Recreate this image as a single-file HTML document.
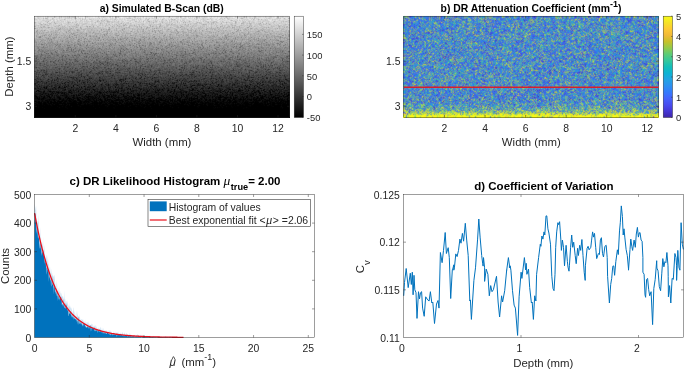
<!DOCTYPE html>
<html><head><meta charset="utf-8"><title>DR attenuation figure</title>
<style>html,body{margin:0;padding:0;background:#fff}svg{display:block}text{font-family:"Liberation Sans",sans-serif;fill:#262626}.tk{font-size:10.4px}.ck{font-size:9.4px}.lb{font-size:11.4px}.tt{font-size:10.4px;font-weight:bold;fill:#000}.t2{font-size:11.5px;font-weight:bold;fill:#000}.ax{fill:none;stroke:#262626;stroke-width:0.45}.t{stroke:#262626;stroke-width:0.45}</style>
</head><body>
<svg width="685" height="370" viewBox="0 0 685 370">
<defs>
<linearGradient id="ga" x1="0" y1="0" x2="0" y2="1"><stop offset="0" stop-color="#ffffff"/><stop offset="1" stop-color="#0c0c0c"/></linearGradient>
<linearGradient id="cba" x1="0" y1="0" x2="0" y2="1"><stop offset="0" stop-color="#fff"/><stop offset="1" stop-color="#000"/></linearGradient>
<linearGradient id="cbb" x1="0" y1="0" x2="0" y2="1"><stop offset="0" stop-color="rgb(249,251,21)"/><stop offset="0.062" stop-color="rgb(245,227,39)"/><stop offset="0.125" stop-color="rgb(254,202,51)"/><stop offset="0.188" stop-color="rgb(241,186,55)"/><stop offset="0.25" stop-color="rgb(200,193,41)"/><stop offset="0.312" stop-color="rgb(148,202,74)"/><stop offset="0.375" stop-color="rgb(92,204,118)"/><stop offset="0.438" stop-color="rgb(52,199,156)"/><stop offset="0.5" stop-color="rgb(18,190,185)"/><stop offset="0.562" stop-color="rgb(12,179,211)"/><stop offset="0.625" stop-color="rgb(33,163,227)"/><stop offset="0.688" stop-color="rgb(44,144,240)"/><stop offset="0.75" stop-color="rgb(52,122,253)"/><stop offset="0.812" stop-color="rgb(69,98,252)"/><stop offset="0.875" stop-color="rgb(72,76,239)"/><stop offset="0.938" stop-color="rgb(69,54,213)"/><stop offset="1" stop-color="rgb(62,38,168)"/></linearGradient>
<linearGradient id="gb" x1="0" y1="0" x2="0" y2="1"><stop offset="0" stop-color="rgb(13,13,13)"/><stop offset="0.233" stop-color="rgb(13,13,13)"/><stop offset="0.467" stop-color="rgb(13,13,13)"/><stop offset="0.7" stop-color="rgb(13,13,13)"/><stop offset="0.72" stop-color="rgb(13,13,13)"/><stop offset="0.725" stop-color="rgb(13,13,13)"/><stop offset="0.73" stop-color="rgb(13,13,13)"/><stop offset="0.735" stop-color="rgb(13,13,13)"/><stop offset="0.74" stop-color="rgb(13,13,13)"/><stop offset="0.745" stop-color="rgb(13,13,13)"/><stop offset="0.75" stop-color="rgb(13,13,13)"/><stop offset="0.755" stop-color="rgb(13,13,13)"/><stop offset="0.76" stop-color="rgb(13,13,13)"/><stop offset="0.765" stop-color="rgb(13,13,13)"/><stop offset="0.77" stop-color="rgb(13,13,13)"/><stop offset="0.775" stop-color="rgb(13,13,13)"/><stop offset="0.78" stop-color="rgb(13,13,13)"/><stop offset="0.785" stop-color="rgb(13,13,13)"/><stop offset="0.79" stop-color="rgb(13,13,13)"/><stop offset="0.795" stop-color="rgb(13,13,13)"/><stop offset="0.8" stop-color="rgb(13,13,13)"/><stop offset="0.805" stop-color="rgb(13,13,13)"/><stop offset="0.81" stop-color="rgb(13,13,13)"/><stop offset="0.815" stop-color="rgb(13,13,13)"/><stop offset="0.82" stop-color="rgb(14,14,14)"/><stop offset="0.825" stop-color="rgb(14,14,14)"/><stop offset="0.83" stop-color="rgb(14,14,14)"/><stop offset="0.835" stop-color="rgb(14,14,14)"/><stop offset="0.84" stop-color="rgb(14,14,14)"/><stop offset="0.845" stop-color="rgb(14,14,14)"/><stop offset="0.85" stop-color="rgb(14,14,14)"/><stop offset="0.855" stop-color="rgb(14,14,14)"/><stop offset="0.86" stop-color="rgb(14,14,14)"/><stop offset="0.865" stop-color="rgb(15,15,15)"/><stop offset="0.87" stop-color="rgb(15,15,15)"/><stop offset="0.875" stop-color="rgb(15,15,15)"/><stop offset="0.88" stop-color="rgb(15,15,15)"/><stop offset="0.885" stop-color="rgb(15,15,15)"/><stop offset="0.89" stop-color="rgb(16,16,16)"/><stop offset="0.895" stop-color="rgb(16,16,16)"/><stop offset="0.9" stop-color="rgb(16,16,16)"/><stop offset="0.905" stop-color="rgb(17,17,17)"/><stop offset="0.91" stop-color="rgb(17,17,17)"/><stop offset="0.915" stop-color="rgb(18,18,18)"/><stop offset="0.92" stop-color="rgb(19,19,19)"/><stop offset="0.925" stop-color="rgb(19,19,19)"/><stop offset="0.93" stop-color="rgb(20,20,20)"/><stop offset="0.935" stop-color="rgb(22,22,22)"/><stop offset="0.94" stop-color="rgb(23,23,23)"/><stop offset="0.945" stop-color="rgb(25,25,25)"/><stop offset="0.95" stop-color="rgb(27,27,27)"/><stop offset="0.955" stop-color="rgb(30,30,30)"/><stop offset="0.96" stop-color="rgb(34,34,34)"/><stop offset="0.965" stop-color="rgb(39,39,39)"/><stop offset="0.97" stop-color="rgb(48,48,48)"/><stop offset="0.975" stop-color="rgb(64,64,64)"/><stop offset="0.98" stop-color="rgb(99,99,99)"/><stop offset="0.985" stop-color="rgb(102,102,102)"/><stop offset="0.99" stop-color="rgb(102,102,102)"/><stop offset="0.995" stop-color="rgb(102,102,102)"/><stop offset="1" stop-color="rgb(102,102,102)"/></linearGradient>
<filter id="fa" x="0" y="0" width="1" height="1" color-interpolation-filters="sRGB"><feTurbulence type="fractalNoise" baseFrequency="0.3 0.37" numOctaves="3" seed="7" result="n"/><feColorMatrix in="n" type="matrix" values="1 0 0 0 0  1 0 0 0 0  1 0 0 0 0  0 0 0 0 1" result="n1"/><feComponentTransfer in="n1" result="l"><feFuncR type="table" tableValues="0.066 0.227 0.303 0.355 0.394 0.425 0.452 0.476 0.497 0.516 0.533 0.55 0.565 0.58 0.594 0.607 0.62 0.633 0.645 0.658 0.67 0.682 0.695 0.707 0.721 0.734 0.749 0.764 0.782 0.802 0.829 0.873 0.066 0.227 0.303 0.355 0.394 0.425 0.452 0.476 0.497 0.516 0.533 0.55 0.565 0.58 0.594 0.607 0.62 0.633 0.645 0.658 0.67 0.682 0.695 0.707 0.721 0.734 0.749 0.764 0.782 0.802 0.829 0.873 0.066 0.227 0.303 0.355 0.394 0.425 0.452 0.476 0.497 0.516 0.533 0.55 0.565 0.58 0.594 0.607 0.62 0.633 0.645 0.658 0.67 0.682 0.695 0.707 0.721 0.734 0.749 0.764 0.782 0.802 0.829 0.873 0.066 0.227 0.303 0.355 0.394 0.425 0.452 0.476 0.497 0.516 0.533 0.55 0.565 0.58 0.594 0.607 0.62 0.633 0.645 0.658 0.67 0.682 0.695 0.707 0.721 0.734 0.749 0.764 0.782 0.802 0.829 0.873 0.066 0.227 0.303 0.355 0.394 0.425 0.452 0.476 0.497 0.516 0.533 0.55 0.565 0.58 0.594 0.607 0.62 0.633 0.645 0.658 0.67 0.682 0.695 0.707 0.721 0.734 0.749 0.764 0.782 0.802 0.829 0.873 0.066 0.227 0.303 0.355 0.394 0.425 0.452 0.476 0.497 0.516 0.533 0.55 0.565 0.58 0.594 0.607 0.62 0.633 0.645 0.658 0.67 0.682 0.695 0.707 0.721 0.734 0.749 0.764 0.782 0.802 0.829 0.873 0.066 0.227 0.303 0.355 0.394 0.425 0.452 0.476 0.497 0.516 0.533 0.55 0.565 0.58 0.594 0.607 0.62 0.633 0.645 0.658 0.67 0.682 0.695 0.707 0.721 0.734 0.749 0.764 0.782 0.802 0.829 0.873 0.066 0.227 0.303 0.355 0.394 0.425 0.452 0.476 0.497 0.516 0.533 0.55 0.565 0.58 0.594 0.607 0.62 0.633 0.645 0.658 0.67 0.682 0.695 0.707 0.721 0.734 0.749 0.764 0.782 0.802 0.829 0.873"/><feFuncG type="table" tableValues="0.066 0.227 0.303 0.355 0.394 0.425 0.452 0.476 0.497 0.516 0.533 0.55 0.565 0.58 0.594 0.607 0.62 0.633 0.645 0.658 0.67 0.682 0.695 0.707 0.721 0.734 0.749 0.764 0.782 0.802 0.829 0.873 0.066 0.227 0.303 0.355 0.394 0.425 0.452 0.476 0.497 0.516 0.533 0.55 0.565 0.58 0.594 0.607 0.62 0.633 0.645 0.658 0.67 0.682 0.695 0.707 0.721 0.734 0.749 0.764 0.782 0.802 0.829 0.873 0.066 0.227 0.303 0.355 0.394 0.425 0.452 0.476 0.497 0.516 0.533 0.55 0.565 0.58 0.594 0.607 0.62 0.633 0.645 0.658 0.67 0.682 0.695 0.707 0.721 0.734 0.749 0.764 0.782 0.802 0.829 0.873 0.066 0.227 0.303 0.355 0.394 0.425 0.452 0.476 0.497 0.516 0.533 0.55 0.565 0.58 0.594 0.607 0.62 0.633 0.645 0.658 0.67 0.682 0.695 0.707 0.721 0.734 0.749 0.764 0.782 0.802 0.829 0.873 0.066 0.227 0.303 0.355 0.394 0.425 0.452 0.476 0.497 0.516 0.533 0.55 0.565 0.58 0.594 0.607 0.62 0.633 0.645 0.658 0.67 0.682 0.695 0.707 0.721 0.734 0.749 0.764 0.782 0.802 0.829 0.873 0.066 0.227 0.303 0.355 0.394 0.425 0.452 0.476 0.497 0.516 0.533 0.55 0.565 0.58 0.594 0.607 0.62 0.633 0.645 0.658 0.67 0.682 0.695 0.707 0.721 0.734 0.749 0.764 0.782 0.802 0.829 0.873 0.066 0.227 0.303 0.355 0.394 0.425 0.452 0.476 0.497 0.516 0.533 0.55 0.565 0.58 0.594 0.607 0.62 0.633 0.645 0.658 0.67 0.682 0.695 0.707 0.721 0.734 0.749 0.764 0.782 0.802 0.829 0.873 0.066 0.227 0.303 0.355 0.394 0.425 0.452 0.476 0.497 0.516 0.533 0.55 0.565 0.58 0.594 0.607 0.62 0.633 0.645 0.658 0.67 0.682 0.695 0.707 0.721 0.734 0.749 0.764 0.782 0.802 0.829 0.873"/><feFuncB type="table" tableValues="0.066 0.227 0.303 0.355 0.394 0.425 0.452 0.476 0.497 0.516 0.533 0.55 0.565 0.58 0.594 0.607 0.62 0.633 0.645 0.658 0.67 0.682 0.695 0.707 0.721 0.734 0.749 0.764 0.782 0.802 0.829 0.873 0.066 0.227 0.303 0.355 0.394 0.425 0.452 0.476 0.497 0.516 0.533 0.55 0.565 0.58 0.594 0.607 0.62 0.633 0.645 0.658 0.67 0.682 0.695 0.707 0.721 0.734 0.749 0.764 0.782 0.802 0.829 0.873 0.066 0.227 0.303 0.355 0.394 0.425 0.452 0.476 0.497 0.516 0.533 0.55 0.565 0.58 0.594 0.607 0.62 0.633 0.645 0.658 0.67 0.682 0.695 0.707 0.721 0.734 0.749 0.764 0.782 0.802 0.829 0.873 0.066 0.227 0.303 0.355 0.394 0.425 0.452 0.476 0.497 0.516 0.533 0.55 0.565 0.58 0.594 0.607 0.62 0.633 0.645 0.658 0.67 0.682 0.695 0.707 0.721 0.734 0.749 0.764 0.782 0.802 0.829 0.873 0.066 0.227 0.303 0.355 0.394 0.425 0.452 0.476 0.497 0.516 0.533 0.55 0.565 0.58 0.594 0.607 0.62 0.633 0.645 0.658 0.67 0.682 0.695 0.707 0.721 0.734 0.749 0.764 0.782 0.802 0.829 0.873 0.066 0.227 0.303 0.355 0.394 0.425 0.452 0.476 0.497 0.516 0.533 0.55 0.565 0.58 0.594 0.607 0.62 0.633 0.645 0.658 0.67 0.682 0.695 0.707 0.721 0.734 0.749 0.764 0.782 0.802 0.829 0.873 0.066 0.227 0.303 0.355 0.394 0.425 0.452 0.476 0.497 0.516 0.533 0.55 0.565 0.58 0.594 0.607 0.62 0.633 0.645 0.658 0.67 0.682 0.695 0.707 0.721 0.734 0.749 0.764 0.782 0.802 0.829 0.873 0.066 0.227 0.303 0.355 0.394 0.425 0.452 0.476 0.497 0.516 0.533 0.55 0.565 0.58 0.594 0.607 0.62 0.633 0.645 0.658 0.67 0.682 0.695 0.707 0.721 0.734 0.749 0.764 0.782 0.802 0.829 0.873"/></feComponentTransfer><feComposite in="SourceGraphic" in2="l" operator="arithmetic" k1="0" k2="1" k3="0.27" k4="-0.35" result="r"/><feColorMatrix in="r" type="matrix" values="1 0 0 0 0  0 1 0 0 0  0 0 1 0 0  0 0 0 0 1" result="r2"/><feConvolveMatrix in="r2" order="3" kernelMatrix="0 1 0 1 10 1 0 1 0" divisor="14" edgeMode="duplicate" preserveAlpha="true"/></filter>
<filter id="fb" x="0" y="0" width="1" height="1" color-interpolation-filters="sRGB"><feTurbulence type="fractalNoise" baseFrequency="0.3 0.37" numOctaves="3" seed="11" result="n"/><feColorMatrix in="n" type="matrix" values="1 0 0 0 0  0 1 0 0 0  0 0 1 0 0  0 0 0 0 1" result="n1"/><feComponentTransfer in="n1" result="e"><feFuncR type="table" tableValues="0.002 0.006 0.01 0.014 0.019 0.024 0.028 0.033 0.039 0.044 0.05 0.056 0.062 0.068 0.075 0.083 0.091 0.099 0.108 0.118 0.128 0.139 0.152 0.166 0.181 0.199 0.22 0.245 0.277 0.319 0.383 0.52 0.002 0.006 0.01 0.014 0.019 0.024 0.028 0.033 0.039 0.044 0.05 0.056 0.062 0.068 0.075 0.083 0.091 0.099 0.108 0.118 0.128 0.139 0.152 0.166 0.181 0.199 0.22 0.245 0.277 0.319 0.383 0.52 0.002 0.006 0.01 0.014 0.019 0.024 0.028 0.033 0.039 0.044 0.05 0.056 0.062 0.068 0.075 0.083 0.091 0.099 0.108 0.118 0.128 0.139 0.152 0.166 0.181 0.199 0.22 0.245 0.277 0.319 0.383 0.52 0.002 0.006 0.01 0.014 0.019 0.024 0.028 0.033 0.039 0.044 0.05 0.056 0.062 0.068 0.075 0.083 0.091 0.099 0.108 0.118 0.128 0.139 0.152 0.166 0.181 0.199 0.22 0.245 0.277 0.319 0.383 0.52 0.002 0.006 0.01 0.014 0.019 0.024 0.028 0.033 0.039 0.044 0.05 0.056 0.062 0.068 0.075 0.083 0.091 0.099 0.108 0.118 0.128 0.139 0.152 0.166 0.181 0.199 0.22 0.245 0.277 0.319 0.383 0.52 0.002 0.006 0.01 0.014 0.019 0.024 0.028 0.033 0.039 0.044 0.05 0.056 0.062 0.068 0.075 0.083 0.091 0.099 0.108 0.118 0.128 0.139 0.152 0.166 0.181 0.199 0.22 0.245 0.277 0.319 0.383 0.52 0.002 0.006 0.01 0.014 0.019 0.024 0.028 0.033 0.039 0.044 0.05 0.056 0.062 0.068 0.075 0.083 0.091 0.099 0.108 0.118 0.128 0.139 0.152 0.166 0.181 0.199 0.22 0.245 0.277 0.319 0.383 0.52 0.002 0.006 0.01 0.014 0.019 0.024 0.028 0.033 0.039 0.044 0.05 0.056 0.062 0.068 0.075 0.083 0.091 0.099 0.108 0.118 0.128 0.139 0.152 0.166 0.181 0.199 0.22 0.245 0.277 0.319 0.383 0.52"/><feFuncG type="table" tableValues="0.002 0.006 0.01 0.014 0.019 0.024 0.028 0.033 0.039 0.044 0.05 0.056 0.062 0.068 0.075 0.083 0.091 0.099 0.108 0.118 0.128 0.139 0.152 0.166 0.181 0.199 0.22 0.245 0.277 0.319 0.383 0.52 0.002 0.006 0.01 0.014 0.019 0.024 0.028 0.033 0.039 0.044 0.05 0.056 0.062 0.068 0.075 0.083 0.091 0.099 0.108 0.118 0.128 0.139 0.152 0.166 0.181 0.199 0.22 0.245 0.277 0.319 0.383 0.52 0.002 0.006 0.01 0.014 0.019 0.024 0.028 0.033 0.039 0.044 0.05 0.056 0.062 0.068 0.075 0.083 0.091 0.099 0.108 0.118 0.128 0.139 0.152 0.166 0.181 0.199 0.22 0.245 0.277 0.319 0.383 0.52 0.002 0.006 0.01 0.014 0.019 0.024 0.028 0.033 0.039 0.044 0.05 0.056 0.062 0.068 0.075 0.083 0.091 0.099 0.108 0.118 0.128 0.139 0.152 0.166 0.181 0.199 0.22 0.245 0.277 0.319 0.383 0.52 0.002 0.006 0.01 0.014 0.019 0.024 0.028 0.033 0.039 0.044 0.05 0.056 0.062 0.068 0.075 0.083 0.091 0.099 0.108 0.118 0.128 0.139 0.152 0.166 0.181 0.199 0.22 0.245 0.277 0.319 0.383 0.52 0.002 0.006 0.01 0.014 0.019 0.024 0.028 0.033 0.039 0.044 0.05 0.056 0.062 0.068 0.075 0.083 0.091 0.099 0.108 0.118 0.128 0.139 0.152 0.166 0.181 0.199 0.22 0.245 0.277 0.319 0.383 0.52 0.002 0.006 0.01 0.014 0.019 0.024 0.028 0.033 0.039 0.044 0.05 0.056 0.062 0.068 0.075 0.083 0.091 0.099 0.108 0.118 0.128 0.139 0.152 0.166 0.181 0.199 0.22 0.245 0.277 0.319 0.383 0.52 0.002 0.006 0.01 0.014 0.019 0.024 0.028 0.033 0.039 0.044 0.05 0.056 0.062 0.068 0.075 0.083 0.091 0.099 0.108 0.118 0.128 0.139 0.152 0.166 0.181 0.199 0.22 0.245 0.277 0.319 0.383 0.52"/><feFuncB type="table" tableValues="0.002 0.006 0.01 0.014 0.019 0.024 0.028 0.033 0.039 0.044 0.05 0.056 0.062 0.068 0.075 0.083 0.091 0.099 0.108 0.118 0.128 0.139 0.152 0.166 0.181 0.199 0.22 0.245 0.277 0.319 0.383 0.52 0.002 0.006 0.01 0.014 0.019 0.024 0.028 0.033 0.039 0.044 0.05 0.056 0.062 0.068 0.075 0.083 0.091 0.099 0.108 0.118 0.128 0.139 0.152 0.166 0.181 0.199 0.22 0.245 0.277 0.319 0.383 0.52 0.002 0.006 0.01 0.014 0.019 0.024 0.028 0.033 0.039 0.044 0.05 0.056 0.062 0.068 0.075 0.083 0.091 0.099 0.108 0.118 0.128 0.139 0.152 0.166 0.181 0.199 0.22 0.245 0.277 0.319 0.383 0.52 0.002 0.006 0.01 0.014 0.019 0.024 0.028 0.033 0.039 0.044 0.05 0.056 0.062 0.068 0.075 0.083 0.091 0.099 0.108 0.118 0.128 0.139 0.152 0.166 0.181 0.199 0.22 0.245 0.277 0.319 0.383 0.52 0.002 0.006 0.01 0.014 0.019 0.024 0.028 0.033 0.039 0.044 0.05 0.056 0.062 0.068 0.075 0.083 0.091 0.099 0.108 0.118 0.128 0.139 0.152 0.166 0.181 0.199 0.22 0.245 0.277 0.319 0.383 0.52 0.002 0.006 0.01 0.014 0.019 0.024 0.028 0.033 0.039 0.044 0.05 0.056 0.062 0.068 0.075 0.083 0.091 0.099 0.108 0.118 0.128 0.139 0.152 0.166 0.181 0.199 0.22 0.245 0.277 0.319 0.383 0.52 0.002 0.006 0.01 0.014 0.019 0.024 0.028 0.033 0.039 0.044 0.05 0.056 0.062 0.068 0.075 0.083 0.091 0.099 0.108 0.118 0.128 0.139 0.152 0.166 0.181 0.199 0.22 0.245 0.277 0.319 0.383 0.52 0.002 0.006 0.01 0.014 0.019 0.024 0.028 0.033 0.039 0.044 0.05 0.056 0.062 0.068 0.075 0.083 0.091 0.099 0.108 0.118 0.128 0.139 0.152 0.166 0.181 0.199 0.22 0.245 0.277 0.319 0.383 0.52"/></feComponentTransfer><feColorMatrix in="e" type="matrix" values="0.8 0.2 0 0 0  0 0.8 0.2 0 0  0.2 0 0.8 0 0  0 0 0 0 1" result="em"/><feComposite in="SourceGraphic" in2="em" operator="arithmetic" k1="64" k2="0" k3="0" k4="0" result="v"/><feColorMatrix in="v" type="matrix" values="1 0 0 0 0  1 0 0 0 0  1 0 0 0 0  0 0 0 0 1" result="v0"/><feComponentTransfer in="v0" result="c0"><feFuncR type="table" tableValues="0.242 0.246 0.25 0.254 0.258 0.261 0.265 0.267 0.27 0.273 0.275 0.277 0.278 0.279 0.28 0.281 0.281 0.281 0.281 0.28 0.28 0.278 0.276 0.274 0.27 0.266 0.261 0.254 0.246 0.235 0.223 0.211 0.199 0.192 0.185 0.182 0.179 0.178 0.177 0.174 0.17 0.164 0.156 0.151 0.147 0.143 0.139 0.134 0.127 0.121 0.114 0.106 0.098 0.088 0.074 0.058 0.038 0.023 0.01 0.004 0.006 0.016 0.034 0.057 0.083 0.107 0.129 0.148 0.163 0.177 0.188 0.199 0.21 0.223 0.238 0.256 0.278 0.3 0.325 0.35 0.375 0.401 0.428 0.456 0.485 0.514 0.542 0.57 0.598 0.626 0.653 0.679 0.705 0.731 0.755 0.78 0.803 0.825 0.847 0.868 0.888 0.907 0.925 0.942 0.959 0.975 0.986 0.996 0.996 0.997 0.996 0.995 0.992 0.989 0.983 0.978 0.973 0.967 0.964 0.961 0.96 0.96 0.961 0.963 0.966 0.969 0.973 0.977"/><feFuncG type="table" tableValues="0.15 0.158 0.165 0.173 0.182 0.189 0.197 0.206 0.214 0.224 0.233 0.244 0.255 0.266 0.277 0.288 0.299 0.31 0.321 0.332 0.343 0.354 0.365 0.376 0.387 0.398 0.41 0.422 0.433 0.445 0.457 0.47 0.482 0.493 0.504 0.515 0.526 0.536 0.547 0.557 0.567 0.577 0.587 0.596 0.606 0.615 0.624 0.633 0.642 0.651 0.66 0.668 0.676 0.684 0.692 0.699 0.705 0.712 0.718 0.723 0.729 0.734 0.739 0.743 0.748 0.752 0.756 0.76 0.765 0.769 0.773 0.778 0.782 0.786 0.79 0.793 0.796 0.798 0.8 0.801 0.802 0.803 0.803 0.802 0.8 0.798 0.796 0.793 0.79 0.786 0.782 0.778 0.773 0.768 0.764 0.759 0.754 0.749 0.744 0.74 0.736 0.733 0.73 0.729 0.729 0.731 0.738 0.745 0.756 0.768 0.779 0.791 0.803 0.815 0.827 0.84 0.852 0.865 0.877 0.89 0.902 0.914 0.926 0.938 0.949 0.961 0.972 0.984"/><feFuncB type="table" tableValues="0.66 0.684 0.707 0.729 0.75 0.772 0.794 0.815 0.835 0.852 0.87 0.884 0.898 0.909 0.921 0.931 0.94 0.949 0.957 0.964 0.971 0.976 0.982 0.986 0.99 0.992 0.995 0.997 0.998 0.998 0.997 0.994 0.99 0.986 0.981 0.976 0.97 0.962 0.954 0.946 0.938 0.931 0.924 0.917 0.91 0.904 0.899 0.894 0.89 0.885 0.879 0.871 0.863 0.854 0.844 0.833 0.821 0.81 0.797 0.785 0.772 0.759 0.746 0.732 0.719 0.705 0.691 0.677 0.663 0.648 0.633 0.618 0.602 0.585 0.567 0.549 0.53 0.511 0.491 0.471 0.449 0.427 0.405 0.383 0.362 0.341 0.319 0.298 0.276 0.255 0.236 0.218 0.202 0.187 0.174 0.163 0.158 0.154 0.157 0.162 0.17 0.181 0.197 0.213 0.227 0.239 0.238 0.236 0.227 0.219 0.21 0.202 0.195 0.188 0.182 0.176 0.17 0.164 0.159 0.153 0.148 0.142 0.134 0.126 0.116 0.106 0.093 0.081"/></feComponentTransfer><feColorMatrix in="v" type="matrix" values="0 1 0 0 0  0 1 0 0 0  0 1 0 0 0  0 0 0 0 1" result="v1"/><feComponentTransfer in="v1" result="c1"><feFuncR type="table" tableValues="0.242 0.246 0.25 0.254 0.258 0.261 0.265 0.267 0.27 0.273 0.275 0.277 0.278 0.279 0.28 0.281 0.281 0.281 0.281 0.28 0.28 0.278 0.276 0.274 0.27 0.266 0.261 0.254 0.246 0.235 0.223 0.211 0.199 0.192 0.185 0.182 0.179 0.178 0.177 0.174 0.17 0.164 0.156 0.151 0.147 0.143 0.139 0.134 0.127 0.121 0.114 0.106 0.098 0.088 0.074 0.058 0.038 0.023 0.01 0.004 0.006 0.016 0.034 0.057 0.083 0.107 0.129 0.148 0.163 0.177 0.188 0.199 0.21 0.223 0.238 0.256 0.278 0.3 0.325 0.35 0.375 0.401 0.428 0.456 0.485 0.514 0.542 0.57 0.598 0.626 0.653 0.679 0.705 0.731 0.755 0.78 0.803 0.825 0.847 0.868 0.888 0.907 0.925 0.942 0.959 0.975 0.986 0.996 0.996 0.997 0.996 0.995 0.992 0.989 0.983 0.978 0.973 0.967 0.964 0.961 0.96 0.96 0.961 0.963 0.966 0.969 0.973 0.977"/><feFuncG type="table" tableValues="0.15 0.158 0.165 0.173 0.182 0.189 0.197 0.206 0.214 0.224 0.233 0.244 0.255 0.266 0.277 0.288 0.299 0.31 0.321 0.332 0.343 0.354 0.365 0.376 0.387 0.398 0.41 0.422 0.433 0.445 0.457 0.47 0.482 0.493 0.504 0.515 0.526 0.536 0.547 0.557 0.567 0.577 0.587 0.596 0.606 0.615 0.624 0.633 0.642 0.651 0.66 0.668 0.676 0.684 0.692 0.699 0.705 0.712 0.718 0.723 0.729 0.734 0.739 0.743 0.748 0.752 0.756 0.76 0.765 0.769 0.773 0.778 0.782 0.786 0.79 0.793 0.796 0.798 0.8 0.801 0.802 0.803 0.803 0.802 0.8 0.798 0.796 0.793 0.79 0.786 0.782 0.778 0.773 0.768 0.764 0.759 0.754 0.749 0.744 0.74 0.736 0.733 0.73 0.729 0.729 0.731 0.738 0.745 0.756 0.768 0.779 0.791 0.803 0.815 0.827 0.84 0.852 0.865 0.877 0.89 0.902 0.914 0.926 0.938 0.949 0.961 0.972 0.984"/><feFuncB type="table" tableValues="0.66 0.684 0.707 0.729 0.75 0.772 0.794 0.815 0.835 0.852 0.87 0.884 0.898 0.909 0.921 0.931 0.94 0.949 0.957 0.964 0.971 0.976 0.982 0.986 0.99 0.992 0.995 0.997 0.998 0.998 0.997 0.994 0.99 0.986 0.981 0.976 0.97 0.962 0.954 0.946 0.938 0.931 0.924 0.917 0.91 0.904 0.899 0.894 0.89 0.885 0.879 0.871 0.863 0.854 0.844 0.833 0.821 0.81 0.797 0.785 0.772 0.759 0.746 0.732 0.719 0.705 0.691 0.677 0.663 0.648 0.633 0.618 0.602 0.585 0.567 0.549 0.53 0.511 0.491 0.471 0.449 0.427 0.405 0.383 0.362 0.341 0.319 0.298 0.276 0.255 0.236 0.218 0.202 0.187 0.174 0.163 0.158 0.154 0.157 0.162 0.17 0.181 0.197 0.213 0.227 0.239 0.238 0.236 0.227 0.219 0.21 0.202 0.195 0.188 0.182 0.176 0.17 0.164 0.159 0.153 0.148 0.142 0.134 0.126 0.116 0.106 0.093 0.081"/></feComponentTransfer><feColorMatrix in="v" type="matrix" values="0 0 1 0 0  0 0 1 0 0  0 0 1 0 0  0 0 0 0 1" result="v2"/><feComponentTransfer in="v2" result="c2"><feFuncR type="table" tableValues="0.242 0.246 0.25 0.254 0.258 0.261 0.265 0.267 0.27 0.273 0.275 0.277 0.278 0.279 0.28 0.281 0.281 0.281 0.281 0.28 0.28 0.278 0.276 0.274 0.27 0.266 0.261 0.254 0.246 0.235 0.223 0.211 0.199 0.192 0.185 0.182 0.179 0.178 0.177 0.174 0.17 0.164 0.156 0.151 0.147 0.143 0.139 0.134 0.127 0.121 0.114 0.106 0.098 0.088 0.074 0.058 0.038 0.023 0.01 0.004 0.006 0.016 0.034 0.057 0.083 0.107 0.129 0.148 0.163 0.177 0.188 0.199 0.21 0.223 0.238 0.256 0.278 0.3 0.325 0.35 0.375 0.401 0.428 0.456 0.485 0.514 0.542 0.57 0.598 0.626 0.653 0.679 0.705 0.731 0.755 0.78 0.803 0.825 0.847 0.868 0.888 0.907 0.925 0.942 0.959 0.975 0.986 0.996 0.996 0.997 0.996 0.995 0.992 0.989 0.983 0.978 0.973 0.967 0.964 0.961 0.96 0.96 0.961 0.963 0.966 0.969 0.973 0.977"/><feFuncG type="table" tableValues="0.15 0.158 0.165 0.173 0.182 0.189 0.197 0.206 0.214 0.224 0.233 0.244 0.255 0.266 0.277 0.288 0.299 0.31 0.321 0.332 0.343 0.354 0.365 0.376 0.387 0.398 0.41 0.422 0.433 0.445 0.457 0.47 0.482 0.493 0.504 0.515 0.526 0.536 0.547 0.557 0.567 0.577 0.587 0.596 0.606 0.615 0.624 0.633 0.642 0.651 0.66 0.668 0.676 0.684 0.692 0.699 0.705 0.712 0.718 0.723 0.729 0.734 0.739 0.743 0.748 0.752 0.756 0.76 0.765 0.769 0.773 0.778 0.782 0.786 0.79 0.793 0.796 0.798 0.8 0.801 0.802 0.803 0.803 0.802 0.8 0.798 0.796 0.793 0.79 0.786 0.782 0.778 0.773 0.768 0.764 0.759 0.754 0.749 0.744 0.74 0.736 0.733 0.73 0.729 0.729 0.731 0.738 0.745 0.756 0.768 0.779 0.791 0.803 0.815 0.827 0.84 0.852 0.865 0.877 0.89 0.902 0.914 0.926 0.938 0.949 0.961 0.972 0.984"/><feFuncB type="table" tableValues="0.66 0.684 0.707 0.729 0.75 0.772 0.794 0.815 0.835 0.852 0.87 0.884 0.898 0.909 0.921 0.931 0.94 0.949 0.957 0.964 0.971 0.976 0.982 0.986 0.99 0.992 0.995 0.997 0.998 0.998 0.997 0.994 0.99 0.986 0.981 0.976 0.97 0.962 0.954 0.946 0.938 0.931 0.924 0.917 0.91 0.904 0.899 0.894 0.89 0.885 0.879 0.871 0.863 0.854 0.844 0.833 0.821 0.81 0.797 0.785 0.772 0.759 0.746 0.732 0.719 0.705 0.691 0.677 0.663 0.648 0.633 0.618 0.602 0.585 0.567 0.549 0.53 0.511 0.491 0.471 0.449 0.427 0.405 0.383 0.362 0.341 0.319 0.298 0.276 0.255 0.236 0.218 0.202 0.187 0.174 0.163 0.158 0.154 0.157 0.162 0.17 0.181 0.197 0.213 0.227 0.239 0.238 0.236 0.227 0.219 0.21 0.202 0.195 0.188 0.182 0.176 0.17 0.164 0.159 0.153 0.148 0.142 0.134 0.126 0.116 0.106 0.093 0.081"/></feComponentTransfer><feComposite in="c0" in2="c1" operator="arithmetic" k1="0" k2="0.5" k3="0.5" k4="0" result="c01"/><feComposite in="c01" in2="c2" operator="arithmetic" k1="0" k2="0.6667" k3="0.3333" k4="0" result="cc"/><feConvolveMatrix in="cc" order="3" kernelMatrix="1 2 1 2 12 2 1 2 1" divisor="24" edgeMode="duplicate" preserveAlpha="true"/></filter>
</defs>
<rect x="0" y="0" width="685" height="370" fill="#fff"/>
<g id="panel-a">
<rect x="34.5" y="16.2" width="255" height="101.3" fill="url(#ga)" filter="url(#fa)"/>
<rect x="34.5" y="16.2" width="255" height="101.3" class="ax"/>
<text class="tt" x="161.7" y="11.5" text-anchor="middle">a) Simulated B-Scan (dB)</text>
<line class="t" x1="75.3" y1="117.5" x2="75.3" y2="115.0"/><line class="t" x1="75.3" y1="16.2" x2="75.3" y2="18.7"/>
<text class="tk" x="75.3" y="132" text-anchor="middle">2</text>
<line class="t" x1="115.9" y1="117.5" x2="115.9" y2="115.0"/><line class="t" x1="115.9" y1="16.2" x2="115.9" y2="18.7"/>
<text class="tk" x="115.9" y="132" text-anchor="middle">4</text>
<line class="t" x1="156.4" y1="117.5" x2="156.4" y2="115.0"/><line class="t" x1="156.4" y1="16.2" x2="156.4" y2="18.7"/>
<text class="tk" x="156.4" y="132" text-anchor="middle">6</text>
<line class="t" x1="196.9" y1="117.5" x2="196.9" y2="115.0"/><line class="t" x1="196.9" y1="16.2" x2="196.9" y2="18.7"/>
<text class="tk" x="196.9" y="132" text-anchor="middle">8</text>
<line class="t" x1="237.5" y1="117.5" x2="237.5" y2="115.0"/><line class="t" x1="237.5" y1="16.2" x2="237.5" y2="18.7"/>
<text class="tk" x="237.5" y="132" text-anchor="middle">10</text>
<line class="t" x1="278.0" y1="117.5" x2="278.0" y2="115.0"/><line class="t" x1="278.0" y1="16.2" x2="278.0" y2="18.7"/>
<text class="tk" x="278.0" y="132" text-anchor="middle">12</text>
<line class="t" x1="34.5" y1="61.3" x2="37.0" y2="61.3"/><line class="t" x1="289.5" y1="61.3" x2="287.0" y2="61.3"/>
<text class="tk" x="31.3" y="65" text-anchor="end">1.5</text>
<line class="t" x1="34.5" y1="106.3" x2="37.0" y2="106.3"/><line class="t" x1="289.5" y1="106.3" x2="287.0" y2="106.3"/>
<text class="tk" x="31.3" y="110" text-anchor="end">3</text>
<text class="lb" x="162" y="146" text-anchor="middle">Width (mm)</text>
<text class="lb" transform="translate(13,66.6) rotate(-90)" text-anchor="middle">Depth (mm)</text>
<rect x="294.2" y="16.2" width="9.3" height="101.3" fill="url(#cba)"/>
<rect x="294.2" y="16.2" width="9.3" height="101.3" class="ax"/>
<line class="t" x1="303.5" y1="34.4" x2="302.0" y2="34.4"/>
<text class="ck" x="306.8" y="38">150</text>
<line class="t" x1="303.5" y1="55.1" x2="302.0" y2="55.1"/>
<text class="ck" x="306.8" y="59">100</text>
<line class="t" x1="303.5" y1="75.8" x2="302.0" y2="75.8"/>
<text class="ck" x="306.8" y="80">50</text>
<line class="t" x1="303.5" y1="96.5" x2="302.0" y2="96.5"/>
<text class="ck" x="306.8" y="100">0</text>
<line class="t" x1="303.5" y1="117.2" x2="302.0" y2="117.2"/>
<text class="ck" x="306.8" y="121">-50</text>
</g>
<g id="panel-b">
<rect x="403.8" y="16.2" width="254.7" height="101.3" fill="url(#gb)" filter="url(#fb)"/>
<rect x="403.8" y="16.2" width="254.7" height="101.3" class="ax"/>
<line x1="403.8" y1="87.2" x2="658.5" y2="87.2" stroke="#d81e2c" stroke-width="1.5"/>
<text class="tt" x="531" y="11.5" text-anchor="middle">b) DR Attenuation Coefficient (mm<tspan dy="-5" font-size="9">-1</tspan><tspan dy="5">)</tspan></text>
<line class="t" x1="444.5" y1="117.5" x2="444.5" y2="115.0"/><line class="t" x1="444.5" y1="16.2" x2="444.5" y2="18.7"/>
<text class="tk" x="444.5" y="132" text-anchor="middle">2</text>
<line class="t" x1="485.1" y1="117.5" x2="485.1" y2="115.0"/><line class="t" x1="485.1" y1="16.2" x2="485.1" y2="18.7"/>
<text class="tk" x="485.1" y="132" text-anchor="middle">4</text>
<line class="t" x1="525.6" y1="117.5" x2="525.6" y2="115.0"/><line class="t" x1="525.6" y1="16.2" x2="525.6" y2="18.7"/>
<text class="tk" x="525.6" y="132" text-anchor="middle">6</text>
<line class="t" x1="566.2" y1="117.5" x2="566.2" y2="115.0"/><line class="t" x1="566.2" y1="16.2" x2="566.2" y2="18.7"/>
<text class="tk" x="566.2" y="132" text-anchor="middle">8</text>
<line class="t" x1="606.7" y1="117.5" x2="606.7" y2="115.0"/><line class="t" x1="606.7" y1="16.2" x2="606.7" y2="18.7"/>
<text class="tk" x="606.7" y="132" text-anchor="middle">10</text>
<line class="t" x1="647.3" y1="117.5" x2="647.3" y2="115.0"/><line class="t" x1="647.3" y1="16.2" x2="647.3" y2="18.7"/>
<text class="tk" x="647.3" y="132" text-anchor="middle">12</text>
<line class="t" x1="403.8" y1="61.3" x2="406.3" y2="61.3"/><line class="t" x1="658.5" y1="61.3" x2="656.0" y2="61.3"/>
<text class="tk" x="400.5" y="65" text-anchor="end">1.5</text>
<line class="t" x1="403.8" y1="106.3" x2="406.3" y2="106.3"/><line class="t" x1="658.5" y1="106.3" x2="656.0" y2="106.3"/>
<text class="tk" x="400.5" y="110" text-anchor="end">3</text>
<text class="lb" x="531.3" y="146" text-anchor="middle">Width (mm)</text>
<rect x="663.2" y="16.2" width="9.3" height="101.3" fill="url(#cbb)"/>
<rect x="663.2" y="16.2" width="9.3" height="101.3" class="ax"/>
<line class="t" x1="672.5" y1="117.5" x2="671.0" y2="117.5"/>
<text class="ck" x="675.9" y="121">0</text>
<line class="t" x1="672.5" y1="97.24" x2="671.0" y2="97.24"/>
<text class="ck" x="675.9" y="101">1</text>
<line class="t" x1="672.5" y1="76.98" x2="671.0" y2="76.98"/>
<text class="ck" x="675.9" y="81">2</text>
<line class="t" x1="672.5" y1="56.72" x2="671.0" y2="56.72"/>
<text class="ck" x="675.9" y="61">3</text>
<line class="t" x1="672.5" y1="36.46" x2="671.0" y2="36.46"/>
<text class="ck" x="675.9" y="40">4</text>
<line class="t" x1="672.5" y1="16.2" x2="671.0" y2="16.2"/>
<text class="ck" x="675.9" y="20">5</text>
</g>
<g id="panel-c">
<polygon points="34.55,337.5 34.55,205.09 34.82,204.08 35.08,211.04 35.35,207.73 35.61,205.85 35.88,210.3 36.15,205.11 36.41,220.57 36.68,216.51 36.94,222.25 37.21,224.02 37.48,221.98 37.74,221.05 38.01,221.27 38.27,222.09 38.54,213.96 38.8,222.74 39.07,237.27 39.34,228.81 39.6,234.45 39.87,235.06 40.13,226.64 40.4,235.87 40.67,246.03 40.93,235.41 41.2,239.66 41.46,245.29 41.73,245.08 42,244.66 42.26,242.7 42.53,245.79 42.79,244.36 43.06,236.7 43.33,250.73 43.59,251.77 43.86,250.05 44.12,244.56 44.39,254.22 44.66,244.98 44.92,258.98 45.19,258.6 45.45,254.94 45.72,259.64 45.98,259.41 46.25,255.38 46.52,255.05 46.78,258.74 47.05,261.38 47.31,254.97 47.58,260.07 47.85,263.77 48.11,258.2 48.38,268.36 48.64,264.5 48.91,263.17 49.18,266.89 49.44,270.1 49.71,266.93 49.97,271.49 50.24,272.48 50.51,275.01 50.77,266.05 51.04,274.49 51.3,268.2 51.57,272.12 51.84,275.46 52.1,272.41 52.37,274.71 52.63,275.97 52.9,282.65 53.16,277.58 53.43,275.02 53.7,277.29 53.96,275.98 54.23,274.74 54.49,279.55 54.76,274.23 55.03,288.12 55.29,283.91 55.56,293.06 55.82,281.16 56.09,284.46 56.36,279.19 56.62,287.32 56.89,293.93 57.15,282.51 57.42,292.51 57.69,292.78 57.95,289.42 58.22,287.13 58.48,291.66 58.75,289.76 59.02,297.46 59.28,285.49 59.55,292.2 59.81,292.07 60.08,291 60.35,292.9 60.61,293.3 60.88,297.54 61.14,295.3 61.41,293.96 61.67,292.46 61.94,296.73 62.21,296.5 62.47,296.16 62.74,295.87 63,297.48 63.27,299.37 63.54,300.6 63.8,295.93 64.07,298.94 64.33,300.21 64.6,290.03 64.87,298.4 65.13,298.91 65.4,301.43 65.66,305.33 65.93,299.3 66.2,303.33 66.46,303.29 66.73,300.82 66.99,301.24 67.26,303.87 67.53,304.87 67.79,299.3 68.06,304.02 68.32,308.89 68.59,304.24 68.85,306.26 69.12,306.94 69.39,305.48 69.65,307.05 69.92,302.56 70.18,307.8 70.45,307.99 70.72,305.88 70.98,310.8 71.25,306.93 71.51,310.08 71.78,307.13 72.05,312.73 72.31,309.73 72.58,315.21 72.84,312.53 73.11,311.65 73.38,310.72 73.64,307.3 73.91,307.95 74.17,316.12 74.44,314.94 74.71,310.27 74.97,312.53 75.24,317.17 75.5,312.96 75.77,317.07 76.03,316.67 76.3,317.85 76.57,315.74 76.83,310.12 77.1,314.74 77.36,316.1 77.63,310.32 77.9,317.38 78.16,316.89 78.43,317.38 78.69,316.07 78.96,317.92 79.23,314.23 79.49,318.31 79.76,316.66 80.02,317.61 80.29,320.17 80.56,320.62 80.82,318.83 81.09,323.8 81.35,319.1 81.62,319.16 81.89,319.23 82.15,319.88 82.42,319.18 82.68,320.82 82.95,318.98 83.21,323.78 83.48,318.83 83.75,322.6 84.01,320.06 84.28,322.12 84.54,322.21 84.81,323.1 85.08,319.12 85.34,323.99 85.61,324.38 85.87,321.81 86.14,321.9 86.41,322.47 86.67,324.52 86.94,324.09 87.2,321.36 87.47,325.09 87.74,322.22 88,322.17 88.27,323.4 88.53,325.97 88.8,320.53 89.07,323.86 89.33,323.88 89.6,325.03 89.86,326.16 90.13,325.11 90.39,324.44 90.66,326.37 90.93,324.86 91.19,323.24 91.46,324.58 91.72,325.61 91.99,323.83 92.26,324.18 92.52,324.35 92.79,327.25 93.05,329.03 93.32,324.91 93.59,326.22 93.85,327.03 94.12,325.79 94.38,327.38 94.65,327.76 94.92,324.08 95.18,329.48 95.45,325.83 95.71,325.68 95.98,324.64 96.25,327.07 96.51,326.79 96.78,329.03 97.04,327.72 97.31,330.97 97.58,328.8 97.84,328.11 98.11,328.32 98.37,328.96 98.64,326.69 98.9,330.73 99.17,328.37 99.44,329.21 99.7,328.69 99.97,328.76 100.23,326.23 100.5,330.48 100.77,327.27 101.03,327.28 101.3,329.45 101.56,330.19 101.83,331.1 102.1,330.68 102.36,326.92 102.63,332.54 102.89,329.19 103.16,330.76 103.43,327.5 103.69,329.61 103.96,331.82 104.22,330.83 104.49,330 104.76,330.17 105.02,331.58 105.29,330.83 105.55,331.11 105.82,330.03 106.08,330.36 106.35,330.49 106.62,331.54 106.88,329.96 107.15,331.64 107.41,332.02 107.68,331.61 107.95,331.55 108.21,331.59 108.48,333.52 108.74,329.81 109.01,330.71 109.28,329.99 109.54,331.99 109.81,330.77 110.07,331.45 110.34,331.7 110.61,329.82 110.87,332.5 111.14,331.28 111.4,333.84 111.67,331.42 111.94,332.26 112.2,333.21 112.47,332.81 112.73,334.47 113,333.4 113.26,332.17 113.53,335.12 113.8,331.34 114.06,331.51 114.33,333.32 114.59,334.1 114.86,334.06 115.13,333.98 115.39,333.5 115.66,330.66 115.92,333.95 116.19,332.16 116.46,331.74 116.72,333.9 116.99,333.29 117.25,332.44 117.52,333.74 117.79,331.99 118.05,331.21 118.32,333.3 118.58,334.06 118.85,332.79 119.12,333.07 119.38,334.1 119.65,333.59 119.91,333.43 120.18,333.09 120.44,332.57 120.71,334.05 120.98,334.8 121.24,335.11 121.51,332.13 121.77,334.13 122.04,334.16 122.31,331.75 122.57,332.94 122.84,332.03 123.1,334.1 123.37,334.56 123.64,334.46 123.9,333.53 124.17,333.75 124.43,333.8 124.7,332.33 124.97,333.11 125.23,335.09 125.5,333.91 125.76,333.82 126.03,334.9 126.3,332.55 126.56,333.68 126.83,333.25 127.09,334.85 127.36,335.35 127.62,333.93 127.89,334.68 128.16,335 128.42,334.66 128.69,334.47 128.95,334.54 129.22,334.83 129.49,334.37 129.75,332.63 130.02,333.91 130.28,335.15 130.55,333.36 130.82,335.18 131.08,335.95 131.35,335.86 131.61,336.33 131.88,334.15 132.15,335.72 132.41,335.96 132.68,335.4 132.94,335.18 133.21,335.9 133.48,335.47 133.74,335.11 134.01,334.71 134.27,335.78 134.54,334.82 134.81,335.04 135.07,334.87 135.34,335.59 135.6,336.01 135.87,334.68 136.13,334.95 136.4,335.75 136.67,335.84 136.93,334.95 137.2,334.15 137.46,335.19 137.73,333.9 138,335.27 138.26,335.27 138.53,335.2 138.79,334.87 139.06,336.42 139.33,335.46 139.59,334.83 139.86,336.49 140.12,335.47 140.39,335.19 140.66,334.66 140.92,334.77 141.19,335.69 141.45,334.53 141.72,336.32 141.99,336.5 142.25,335.01 142.52,335.39 142.78,336.39 143.05,335.2 143.31,335.34 143.58,335.43 143.85,336.07 144.11,336.53 144.38,336.75 144.64,336 144.91,335.98 145.18,336.18 145.44,336.21 145.71,335.47 145.97,336.53 146.24,336.34 146.51,334.99 146.77,336.31 147.04,336.33 147.3,335.5 147.57,336.92 147.84,335.26 148.1,336.68 148.37,336.48 148.63,336.71 148.9,336.56 149.17,336.47 149.43,335.69 149.7,336.18 149.96,335.52 150.23,335.81 150.49,336.75 150.76,336.18 151.03,336.48 151.29,336.41 151.56,336.17 151.82,336.07 152.09,336.06 152.36,337.2 152.62,336.34 152.89,336.49 153.15,335.49 153.42,336.41 153.69,336.33 153.95,336.33 154.22,336.01 154.48,336.83 154.75,336.41 155.02,336.42 155.28,336.39 155.55,336.49 155.81,336.62 156.08,336.38 156.35,336.95 156.61,335.78 156.88,336.44 157.14,337.17 157.41,336.57 157.67,336.1 157.94,336.55 158.21,336.54 158.47,337.38 158.74,335.96 159,336.49 159.27,337.27 159.54,336.7 159.8,335.99 160.07,336.4 160.33,337.11 160.6,336.77 160.87,336.48 161.13,335.83 161.4,336.5 161.66,336.33 161.93,336.72 162.2,336.6 162.46,336.97 162.73,337.09 162.99,337.11 163.26,336.85 163.53,336.22 163.79,336.67 164.06,336.26 164.32,336.41 164.59,336.63 164.86,336.85 165.12,335.98 165.39,336.32 165.65,336.3 165.92,335.9 166.18,336.23 166.45,336.65 166.72,336.61 166.98,336.56 167.25,336.03 167.51,337.07 167.78,337.33 168.05,336.92 168.31,336.77 168.58,336.96 168.84,336.5 169.11,336.61 169.38,336.8 169.64,336.78 169.91,336.23 170.17,336.22 170.44,336.3 170.71,336.93 170.97,336.47 171.24,337.17 171.5,337.37 171.77,336.36 172.04,336.6 172.3,336.66 172.57,336.46 172.83,336.4 173.1,336.79 173.36,336.8 173.63,336.71 173.9,336.65 174.16,336.84 174.43,337.26 174.69,336.23 174.96,337.11 175.23,337.07 175.49,336.76 175.76,336.93 176.02,336.79 176.29,336.3 176.56,336.57 176.82,337.06 177.09,336.86 177.35,336.96 177.62,336.63 177.89,337.18 178.15,337.2 178.42,337.38 178.68,336.84 178.95,336.88 179.22,336.8 179.48,336.78 179.75,337.28 180.01,337.08 180.28,337.25 180.54,336.71 180.81,336.8 181.08,337.34 181.34,336.89 181.61,336.99 181.87,336.99 182.14,336.86 182.41,337.16 182.67,337.1 182.94,337.18 183.2,337.18 183.47,337.27 183.47,337.5" fill="#cfe2f3"/>
<polygon points="34.55,337.5 34.55,221.16 34.82,217.05 35.08,213.43 35.35,213.73 35.61,216.81 35.88,223.47 36.15,223.52 36.41,227.5 36.68,233.64 36.94,231.1 37.21,226.05 37.48,230.47 37.74,234.24 38.01,238.73 38.27,235.72 38.54,239.05 38.8,237.58 39.07,236.83 39.34,249.83 39.6,241.64 39.87,248.57 40.13,247.45 40.4,249.82 40.67,241.16 40.93,244.1 41.2,245.9 41.46,252.02 41.73,255.88 42,252.63 42.26,251.32 42.53,253.44 42.79,251.44 43.06,256.55 43.33,249.12 43.59,254.56 43.86,250.37 44.12,258.07 44.39,260.83 44.66,264.09 44.92,258.74 45.19,258.77 45.45,263.01 45.72,262.96 45.98,266.34 46.25,267.74 46.52,268.12 46.78,274.7 47.05,272.37 47.31,269.41 47.58,269.92 47.85,267.33 48.11,269.75 48.38,271.27 48.64,273.35 48.91,282.1 49.18,274.88 49.44,278.81 49.71,274.87 49.97,278.22 50.24,279.12 50.51,280.49 50.77,280.37 51.04,286.55 51.3,286.02 51.57,277.53 51.84,280.74 52.1,284.23 52.37,284.57 52.63,285.28 52.9,274.48 53.16,283.75 53.43,286.01 53.7,288.72 53.96,294.54 54.23,287.47 54.49,284.21 54.76,286.2 55.03,288.81 55.29,292.01 55.56,294.28 55.82,291.09 56.09,293.09 56.36,295.76 56.62,288.14 56.89,296.22 57.15,295.59 57.42,301.38 57.69,290.22 57.95,296.03 58.22,296.29 58.48,295.78 58.75,299.41 59.02,299.28 59.28,297.23 59.55,300.76 59.81,298.12 60.08,296.18 60.35,297.86 60.61,296.59 60.88,297.96 61.14,296.66 61.41,300.92 61.67,301 61.94,305.36 62.21,303.42 62.47,305.23 62.74,303.97 63,306.83 63.27,303.79 63.54,298.54 63.8,307.32 64.07,304.35 64.33,304.62 64.6,308.32 64.87,307.62 65.13,308.54 65.4,306.58 65.66,309.52 65.93,302.18 66.2,306.68 66.46,306.38 66.73,304.37 66.99,306.55 67.26,310.33 67.53,309.57 67.79,310.65 68.06,310.46 68.32,309.19 68.59,316.14 68.85,315.73 69.12,313.04 69.39,311.64 69.65,314 69.92,313.65 70.18,311.13 70.45,312.36 70.72,314.33 70.98,315.09 71.25,317.78 71.51,313.93 71.78,315 72.05,317.49 72.31,314.77 72.58,316.8 72.84,317.01 73.11,319.92 73.38,315.04 73.64,318.62 73.91,316.75 74.17,317.14 74.44,318.95 74.71,318.21 74.97,318.79 75.24,319.06 75.5,318.44 75.77,320.26 76.03,317.97 76.3,319.28 76.57,321.91 76.83,319.17 77.1,320.9 77.36,319.51 77.63,324.87 77.9,320.16 78.16,325.08 78.43,322.02 78.69,315.7 78.96,320.45 79.23,319.96 79.49,323.27 79.76,324.2 80.02,322.55 80.29,321.88 80.56,322.95 80.82,324.12 81.09,324.63 81.35,323.99 81.62,320.75 81.89,323.64 82.15,324.43 82.42,324.4 82.68,325.72 82.95,326.49 83.21,324.19 83.48,322.42 83.75,323.94 84.01,327.1 84.28,322.64 84.54,324.77 84.81,322.38 85.08,325.7 85.34,327.72 85.61,325.42 85.87,326.15 86.14,327.72 86.41,327.34 86.67,326.96 86.94,327.8 87.2,325.69 87.47,326.29 87.74,327.55 88,327.54 88.27,325.84 88.53,326.68 88.8,329.09 89.07,327.14 89.33,325.18 89.6,327.32 89.86,329.07 90.13,325.85 90.39,324.65 90.66,328.01 90.93,331.46 91.19,330.42 91.46,325.99 91.72,328.86 91.99,327.78 92.26,328.1 92.52,328.7 92.79,326.81 93.05,328.85 93.32,328.43 93.59,328.88 93.85,329.07 94.12,326.36 94.38,331 94.65,331.22 94.92,328.4 95.18,331.45 95.45,329.76 95.71,331.35 95.98,328.98 96.25,330.26 96.51,329.5 96.78,331.31 97.04,330.69 97.31,333.33 97.58,329.72 97.84,330.32 98.11,330.87 98.37,330.9 98.64,331.48 98.9,331.2 99.17,329.04 99.44,331.97 99.7,331.91 99.97,330.66 100.23,331.25 100.5,332.26 100.77,329.84 101.03,329.89 101.3,332.15 101.56,329.9 101.83,333.44 102.1,330.36 102.36,333.81 102.63,331.75 102.89,332.37 103.16,332.66 103.43,331.69 103.69,333.42 103.96,333.26 104.22,333.71 104.49,331.08 104.76,333.27 105.02,332.37 105.29,333.02 105.55,331.81 105.82,333.94 106.08,333.82 106.35,333.65 106.62,332.9 106.88,333.88 107.15,332.75 107.41,332.72 107.68,332.31 107.95,332.84 108.21,332.09 108.48,333.78 108.74,333.97 109.01,334.19 109.28,334.24 109.54,334.87 109.81,333.35 110.07,333.66 110.34,335.68 110.61,333.95 110.87,334.54 111.14,334.75 111.4,334.23 111.67,332.99 111.94,333.99 112.2,335.85 112.47,333.89 112.73,334.96 113,332.87 113.26,334.71 113.53,334.4 113.8,334.55 114.06,335.11 114.33,334.8 114.59,334.59 114.86,332.76 115.13,334.48 115.39,334.21 115.66,334.56 115.92,334.53 116.19,334.45 116.46,333.65 116.72,337.08 116.99,335.31 117.25,335.51 117.52,334.24 117.79,335.54 118.05,334.23 118.32,334.17 118.58,335.43 118.85,334.64 119.12,335.43 119.38,334.5 119.65,334.77 119.91,334.31 120.18,334.61 120.44,335.95 120.71,334.23 120.98,335.27 121.24,334.57 121.51,335.29 121.77,334.72 122.04,336.21 122.31,334.51 122.57,336.12 122.84,335.58 123.1,335.18 123.37,336.53 123.64,335.3 123.9,335.56 124.17,335.07 124.43,335.68 124.7,336.3 124.97,336.37 125.23,336.22 125.5,335.64 125.76,335.86 126.03,335.39 126.3,334.84 126.56,336 126.83,336.13 127.09,335.62 127.36,335.61 127.62,337.21 127.89,336.32 128.16,335.9 128.42,335.62 128.69,336.27 128.95,336.62 129.22,334.83 129.49,337.5 129.75,335.26 130.02,336.48 130.28,336.35 130.55,336.16 130.82,335.98 131.08,336.73 131.35,336.98 131.61,336.06 131.88,335.57 132.15,336.42 132.41,335.06 132.68,336.99 132.94,335.88 133.21,336.08 133.48,335.65 133.74,336.95 134.01,336.05 134.27,336.46 134.54,337.5 134.81,336.66 135.07,337.18 135.34,336.64 135.6,336.16 135.87,336.53 136.13,335.58 136.4,336.17 136.67,336.82 136.93,336.7 137.2,336.36 137.46,336.91 137.73,336.3 138,336.3 138.26,336.13 138.53,336.51 138.79,336.53 139.06,337.15 139.33,336.52 139.59,336.7 139.86,336.56 140.12,336.46 140.39,336.97 140.66,336.85 140.92,337 141.19,337.21 141.45,337.5 141.72,337.17 141.99,336.52 142.25,337.5 142.52,336.54 142.78,336.45 143.05,336.39 143.31,336.93 143.58,336.94 143.85,336.37 144.11,336.5 144.38,336.12 144.64,336.99 144.91,337.02 145.18,336.4 145.44,337 145.71,336.92 145.97,336.36 146.24,336.57 146.51,337.04 146.77,336.68 147.04,336.92 147.3,336.51 147.57,336.79 147.84,337.26 148.1,336.28 148.37,336.97 148.63,336.93 148.9,337.19 149.17,336.97 149.43,337.12 149.7,336.78 149.96,336.8 150.23,336.57 150.49,336.72 150.76,337.19 151.03,337.26 151.29,337.31 151.56,336.68 151.82,337.31 152.09,336.52 152.36,336.99 152.62,337.07 152.89,337 153.15,336.46 153.42,337.04 153.69,337.2 153.95,337.44 154.22,337.5 154.48,337.33 154.75,336.68 155.02,336.92 155.28,337.36 155.55,337.5 155.81,336.77 156.08,337.02 156.35,337.5 156.61,337.22 156.88,337.5 157.14,336.84 157.41,336.97 157.67,337.38 157.94,337.5 158.21,337.28 158.47,336.41 158.74,337.05 159,337.36 159.27,336.92 159.54,337.36 159.8,336.72 160.07,337.5 160.33,337.35 160.6,336.78 160.87,336.89 161.13,337.07 161.4,337.5 161.66,337.23 161.93,337.06 162.2,337.38 162.46,337.25 162.73,337.01 162.99,337.37 163.26,337.13 163.53,337.35 163.79,337.5 164.06,337.5 164.32,337.48 164.59,337.5 164.86,337.03 165.12,337.28 165.39,337.5 165.65,336.92 165.92,336.69 166.18,337.44 166.45,337.18 166.72,337.36 166.98,337.13 167.25,337.3 167.51,337.22 167.78,337.34 168.05,337.5 168.31,337.43 168.58,337.5 168.84,337.5 169.11,337.46 169.38,336.74 169.64,337.17 169.91,336.92 170.17,337.5 170.44,337.43 170.71,337.14 170.97,337.08 171.24,337.26 171.5,337.48 171.77,337.5 172.04,337.33 172.3,337.5 172.57,337.33 172.83,337.5 173.1,337.5 173.36,337.5 173.63,337.5 173.9,337.5 174.16,337.34 174.43,337.5 174.69,337.5 174.96,337.23 175.23,337.3 175.49,337.36 175.76,337.5 176.02,337.21 176.29,337.32 176.56,337.5 176.82,337.5 177.09,337.26 177.35,337.19 177.62,337.5 177.89,337.5 178.15,337.19 178.42,337.5 178.68,337.28 178.95,337.43 179.22,337.46 179.48,337.5 179.75,337.16 180.01,337.5 180.28,337.44 180.54,337.5 180.81,337.07 181.08,337.44 181.34,337.5 181.61,337.47 181.87,337.5 182.14,337.49 182.41,337.5 182.67,337.24 182.94,337.2 183.2,337.04 183.47,337.5 183.47,337.5" fill="#0072bd"/>
<polyline points="34.55,213.09 35.64,218.99 36.74,224.6 37.83,229.95 38.93,235.05 40.02,239.9 41.12,244.53 42.21,248.93 43.31,253.13 44.41,257.13 45.5,260.93 46.59,264.56 47.69,268.02 48.78,271.31 49.88,274.45 50.97,277.44 52.07,280.28 53.16,282.99 54.26,285.58 55.35,288.04 56.45,290.38 57.55,292.61 58.64,294.74 59.73,296.77 60.83,298.7 61.92,300.53 63.02,302.29 64.11,303.95 65.21,305.54 66.3,307.06 67.4,308.5 68.5,309.87 69.59,311.18 70.69,312.43 71.78,313.62 72.88,314.75 73.97,315.83 75.06,316.86 76.16,317.83 77.25,318.77 78.35,319.65 79.44,320.5 80.54,321.3 81.63,322.07 82.73,322.8 83.82,323.5 84.92,324.16 86.01,324.79 87.11,325.4 88.2,325.97 89.3,326.52 90.39,327.04 91.49,327.53 92.58,328 93.68,328.45 94.77,328.88 95.87,329.29 96.97,329.68 98.06,330.05 99.16,330.4 100.25,330.74 101.34,331.06 102.44,331.37 103.53,331.66 104.63,331.93 105.72,332.2 106.82,332.45 107.91,332.69 109.01,332.92 110.1,333.13 111.2,333.34 112.29,333.54 113.39,333.72 114.48,333.9 115.58,334.07 116.67,334.24 117.77,334.39 118.86,334.54 119.96,334.68 121.05,334.81 122.15,334.94 123.24,335.06 124.34,335.18 125.44,335.29 126.53,335.39 127.62,335.49 128.72,335.59 129.81,335.68 130.91,335.76 132,335.85 133.1,335.92 134.19,336 135.29,336.07 136.38,336.14 137.48,336.2 138.57,336.26 139.67,336.32 140.76,336.38 141.86,336.43 142.95,336.48 144.05,336.53 145.14,336.58 146.24,336.62 147.33,336.66 148.43,336.7 149.52,336.74 150.62,336.78 151.71,336.81 152.81,336.84 153.9,336.87 155,336.9 156.09,336.93 157.19,336.96 158.28,336.98 159.38,337.01 160.47,337.03 161.57,337.05 162.66,337.08 163.76,337.1 164.86,337.11 165.95,337.13 167.04,337.15 168.14,337.17 169.24,337.18 170.33,337.2 171.43,337.21 172.52,337.23 173.61,337.24 174.71,337.25 175.81,337.26 176.9,337.27 178,337.28 179.09,337.29 180.19,337.3 181.28,337.31 182.38,337.32 183.47,337.33" fill="none" stroke="#e8101c" stroke-width="1.3" stroke-linejoin="round"/>
<rect x="34.5" y="194.5" width="280" height="143" class="ax"/>
<text class="tk" x="34.55" y="352" text-anchor="middle">0</text>
<line class="t" x1="89.3" y1="337.5" x2="89.3" y2="335.0"/><line class="t" x1="89.3" y1="194.5" x2="89.3" y2="197.0"/>
<text class="tk" x="89.3" y="352" text-anchor="middle">5</text>
<line class="t" x1="144.05" y1="337.5" x2="144.05" y2="335.0"/><line class="t" x1="144.05" y1="194.5" x2="144.05" y2="197.0"/>
<text class="tk" x="144.05" y="352" text-anchor="middle">10</text>
<line class="t" x1="198.8" y1="337.5" x2="198.8" y2="335.0"/><line class="t" x1="198.8" y1="194.5" x2="198.8" y2="197.0"/>
<text class="tk" x="198.8" y="352" text-anchor="middle">15</text>
<line class="t" x1="253.55" y1="337.5" x2="253.55" y2="335.0"/><line class="t" x1="253.55" y1="194.5" x2="253.55" y2="197.0"/>
<text class="tk" x="253.55" y="352" text-anchor="middle">20</text>
<line class="t" x1="308.3" y1="337.5" x2="308.3" y2="335.0"/><line class="t" x1="308.3" y1="194.5" x2="308.3" y2="197.0"/>
<text class="tk" x="308.3" y="352" text-anchor="middle">25</text>
<text class="tk" x="31.3" y="342" text-anchor="end">0</text>
<line class="t" x1="34.5" y1="308.9" x2="37.0" y2="308.9"/><line class="t" x1="314.5" y1="308.9" x2="312.0" y2="308.9"/>
<text class="tk" x="31.3" y="313" text-anchor="end">100</text>
<line class="t" x1="34.5" y1="280.3" x2="37.0" y2="280.3"/><line class="t" x1="314.5" y1="280.3" x2="312.0" y2="280.3"/>
<text class="tk" x="31.3" y="284" text-anchor="end">200</text>
<line class="t" x1="34.5" y1="251.7" x2="37.0" y2="251.7"/><line class="t" x1="314.5" y1="251.7" x2="312.0" y2="251.7"/>
<text class="tk" x="31.3" y="256" text-anchor="end">300</text>
<line class="t" x1="34.5" y1="223.1" x2="37.0" y2="223.1"/><line class="t" x1="314.5" y1="223.1" x2="312.0" y2="223.1"/>
<text class="tk" x="31.3" y="227" text-anchor="end">400</text>
<text class="tk" x="31.3" y="199" text-anchor="end">500</text>
<text class="t2" x="69.5" y="184.8">c) DR Likelihood Histogram <tspan font-family="'Liberation Serif',serif" font-style="italic" font-weight="normal" font-size="13.5">μ</tspan><tspan dy="4.9" dx="0.5" font-size="9.2">true</tspan><tspan dy="-4.9">= 2.00</tspan></text>
<text class="lb" x="169.6" y="365.6" font-family="'Liberation Serif',serif" font-style="italic" font-size="12.5">μ</text>
<text x="171.2" y="362.6" font-family="'Liberation Serif',serif" font-size="9.5">^</text>
<text class="lb" x="181.4" y="365.6" font-size="11.6">(mm<tspan dy="-6" font-size="9">-1</tspan><tspan dy="6">)</tspan></text>
<text class="lb" transform="translate(9,266) rotate(-90)" text-anchor="middle">Counts</text>
<rect x="148" y="199.3" width="162.6" height="27.4" fill="#fff" stroke="#262626" stroke-width="0.55"/>
<rect x="149.8" y="201.4" width="16.9" height="9.8" fill="#0072bd"/>
<line x1="149.8" y1="220" x2="166.7" y2="220" stroke="#e8101c" stroke-width="1.2"/>
<text class="tk" x="168.8" y="211">Histogram of values</text>
<text class="tk" x="168.8" y="224">Best exponential fit &lt;<tspan font-family="'Liberation Serif',serif" font-style="italic" font-size="12.5" dx="0.4">μ</tspan><tspan dx="0.6">&gt;</tspan> =2.06</text>
</g>
<g id="panel-d">
<polyline points="403.7,295.8 404.5,282.5 406.2,268.5 408.2,287.6 410.3,273.2 411.3,284.5 412.3,272.2 413.1,294.8 414,275.3 414.8,289.7 416,292.7 417,318.4 418.5,291.7 419.5,298.9 420.5,292.7 421.6,291.7 422.6,308.1 424.2,316.3 425.7,296.8 427.7,299.9 429.1,301 430.4,291.7 431.8,303 432.8,302 434.5,323.5 436.5,304 438,300.5 439,308.1 440.4,252.5 442.1,262.7 443.5,250.4 445.2,232.5 446.4,253.5 448.2,247.7 449.3,257.6 450.7,298.5 452.3,269.9 453,268.1 453.8,264.8 453.8,270.2 454.4,267.8 455.8,253.9 457.1,256.6 458.5,250.4 459.9,239.1 461,243.2 462.4,233.4 463.6,241.2 465.3,223.3 466.7,240.1 468.2,255.5 469.8,301 470.4,299.9 471.4,319.4 473.9,280.4 475.5,267.8 477.6,239.1 478.8,219 480.1,237.1 481.7,255.5 482.7,263.7 483.1,266.1 483.5,257.6 484.6,267.8 484.6,281.4 486.2,269.1 487.9,274.3 489.3,295.8 490.7,285.6 492,291.7 493.4,289.7 496.5,276.3 498.1,302 499.6,317 501.6,295.8 502.6,302 504.7,290.7 506.7,269.9 506.7,270.2 508.4,257.6 509.4,265 509.4,267.8 510.2,265.8 510.9,270.2 512.5,290.7 514.1,305.1 515.4,308.1 517.6,335.4 519.1,296.8 521.1,272.2 521.9,278.4 524.4,257.6 525.6,269.9 526.2,263.3 526.9,274.3 528.5,269.1 529.7,287.6 531.4,303 532.2,302 533.4,319.4 534.7,295.8 535.9,301 536.6,274.3 538.6,257.6 540.3,244.2 540.9,246.3 541.9,236 542.9,239.1 544,231.9 544.8,235 546,215.9 546.8,215.9 547.9,228.8 548.9,233 550.5,244.2 551.8,276.3 553,288.6 554,290.7 555,274.3 555.7,247.3 556.7,231.9 557.9,222.7 558.7,224.7 559.6,221.7 560.8,239.1 561.4,250.4 562.4,240.1 563.5,247.3 564.5,265.8 566.1,245.3 567.4,261.7 568,267.1 569,271.2 569.4,265.8 570.6,247.3 571.7,235 572.7,247.3 573.7,242.2 575.2,255.5 576.2,263.7 577.6,248.3 578.4,255.5 579.7,245.3 580.7,250.4 581.9,239.5 583,255.5 584.2,272.2 585.2,280.4 585.4,265.8 587.1,248.3 588.1,246.3 589.1,249.8 590.8,247.3 591.6,240.1 592.6,231.9 593.6,237.1 594.5,233.4 595.7,247.3 596.7,258.6 598.4,253.5 599.4,254.5 600.4,240.1 601.4,237.7 602.5,253.5 603.5,257 604.9,246.3 606.2,245.3 607.2,257.6 607.6,276.3 609.4,303 610.7,284.5 611.7,278.4 612.7,267.1 613.1,265.8 613.8,266.1 614.2,270.9 614.6,275.3 615.8,261.7 617.4,249.8 618.3,254.5 619.5,230.9 620.3,222.7 621.3,205.9 622.4,216.5 623.2,235 624,228.8 624.8,237.1 626.1,249.4 627.3,255.5 628.5,268.9 628.5,270.2 630,249.4 630.8,239.1 631.8,246.3 632.6,250.4 634.1,240.1 635.3,247.3 636.3,234 637.4,227.4 638.4,237.1 639.2,233 640,232.5 641.1,240.1 642.1,241.2 642.9,257.6 642.9,272.2 644.1,274.3 645,294.8 645.6,297.3 646.6,279.4 647.6,278.4 648.7,289.7 649.7,295.8 651.1,291.7 652.6,324.6 653.8,288.6 655.2,279.4 656.7,260.7 656.9,268.1 658.1,270.9 658.1,271.2 659.3,286.6 660.6,290.7 661.8,273.2 662.8,258.6 663.9,266.8 664.9,261.7 665.9,262.7 666.9,252.5 668,265.8 668.2,276.3 668.4,296.8 669.6,285.6 670.8,303 672.1,278.4 673.3,279.4 674.9,253.5 676,257.6 676.6,265.8 676.6,280.4 677.8,250.4 679,267.8 679.9,269.9 679.9,270.2 681.1,222.7 682.3,244.2 683.4,249.4" fill="none" stroke="#0072bd" stroke-width="1" stroke-linejoin="round"/>
<rect x="403.5" y="194.5" width="280" height="143" class="ax"/>
<text class="tk" x="401.8" y="352" text-anchor="middle">0</text>
<line class="t" x1="521" y1="337.5" x2="521" y2="335.0"/><line class="t" x1="521" y1="194.5" x2="521" y2="197.0"/>
<text class="tk" x="519.3" y="352" text-anchor="middle">1</text>
<line class="t" x1="638.5" y1="337.5" x2="638.5" y2="335.0"/><line class="t" x1="638.5" y1="194.5" x2="638.5" y2="197.0"/>
<text class="tk" x="636.8" y="352" text-anchor="middle">2</text>
<text class="tk" x="399.8" y="342" text-anchor="end">0.11</text>
<line class="t" x1="403.5" y1="289.833" x2="406.0" y2="289.833"/><line class="t" x1="683.5" y1="289.833" x2="681.0" y2="289.833"/>
<text class="tk" x="399.8" y="294" text-anchor="end">0.115</text>
<line class="t" x1="403.5" y1="242.167" x2="406.0" y2="242.167"/><line class="t" x1="683.5" y1="242.167" x2="681.0" y2="242.167"/>
<text class="tk" x="399.8" y="246" text-anchor="end">0.12</text>
<text class="tk" x="399.8" y="199" text-anchor="end">0.125</text>
<text class="t2" x="543.9" y="189.8" text-anchor="middle">d) Coefficient of Variation</text>
<text class="lb" x="543.3" y="367" text-anchor="middle">Depth (mm)</text>
<text class="lb" transform="translate(364,273.2) rotate(-90)">C<tspan dy="5.6" font-size="9.5">v</tspan></text>
</g>
</svg></body></html>
